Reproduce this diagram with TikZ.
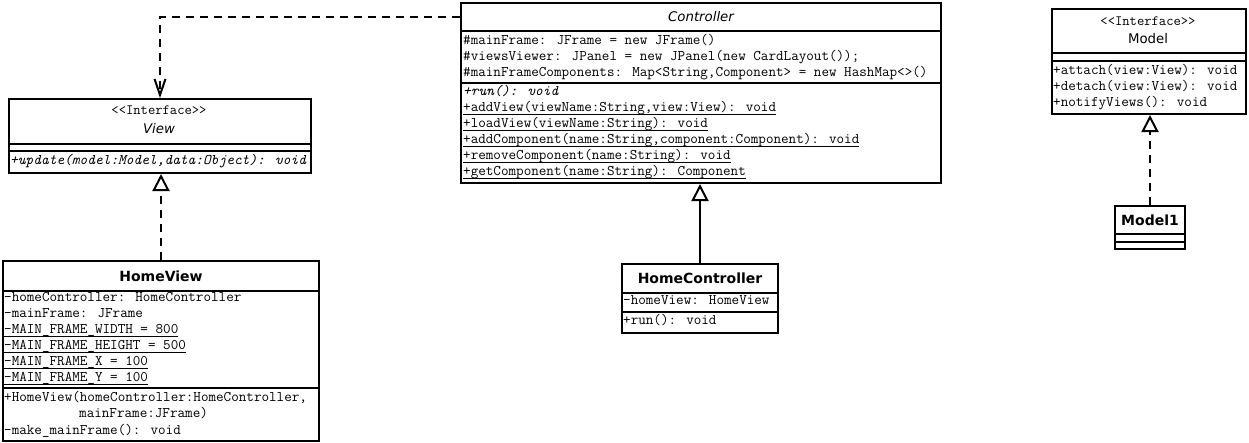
\documentclass[tikz,border=0pt]{standalone}
\usepackage{fontspec}
\usetikzlibrary{arrows.meta}
\newcommand\monof{\ttfamily}
\newfontfamily\titlef{DejaVu Sans}
\newcommand\myul[1]{\setbox0=\hbox{#1}\rlap{\rule[-3.6pt]{\wd0}{0.8pt}}\box0}
\begin{document}
\begin{tikzpicture}[x=1pt,y=-1pt,
 comp/.style={draw, line width=2pt, inner sep=0pt, anchor=north west, fill=white},
 mono/.style={font=\monof\fontsize{14.7}{17}\selectfont, inner sep=0pt, anchor=west, text height=9pt, text depth=3pt},
 monoi/.style={mono, font=\monof\itshape\fontsize{14.7}{17}\selectfont},
 stereo/.style={font=\monof\fontsize{14.2}{17}\selectfont, inner sep=0pt},
 ttli/.style={font=\titlef\itshape\fontsize{13.3}{15}\selectfont, inner sep=0pt},
 ttl/.style={font=\titlef\fontsize{13.3}{15}\selectfont, inner sep=0pt},
 ttlb/.style={font=\titlef\bfseries\fontsize{14}{16}\selectfont, inner sep=0pt},
 dep/.style={line width=2pt, dash pattern=on 8pt off 6pt, -{Straight Barb[length=16pt,width=11pt]}},
 real/.style={line width=2pt, dash pattern=on 8pt off 6pt, -{Triangle[open,length=17pt,width=17pt]}},
 gen/.style={line width=2pt, -{Triangle[open,length=17pt,width=17pt]}},
]
\useasboundingbox (0,0) rectangle (1249,442);
% Controller
\node[comp, minimum width=480pt, minimum height=28pt] (ctrlT) at (460,2) {};
\node[comp, minimum width=480pt, minimum height=52pt] (ctrlA) at (460,30) {};
\node[comp, minimum width=480pt, minimum height=100pt] (ctrlO) at (460,82) {};
\node[ttli] (ctrlN) at (ctrlT.center) {Controller};
\node[mono] (ca1) at (463,41) {\#mainFrame: JFrame = new JFrame()};
\node[mono] (ca2) at (463,57) {\#viewsViewer: JPanel = new JPanel(new CardLayout());};
\node[mono] (ca3) at (463,73) {\#mainFrameComponents: Map<String,Component> = new HashMap<>()};
\node[monoi] (co1) at (463,92) {+run(): void};
\node[mono] (co2) at (463,108) {\myul{+addView(viewName:String,view:View): void}};
\node[mono] (co3) at (463,124) {\myul{+loadView(viewName:String): void}};
\node[mono] (co4) at (463,140) {\myul{+addComponent(name:String,component:Component): void}};
\node[mono] (co5) at (463,156) {\myul{+removeComponent(name:String): void}};
\node[mono] (co6) at (463,172) {\myul{+getComponent(name:String): Component}};
% View
\node[comp, minimum width=302pt, minimum height=45pt] (viewT) at (8,98) {};
\node[comp, minimum width=302pt, minimum height=7pt] (viewA) at (8,143) {};
\node[comp, minimum width=302pt, minimum height=22pt] (viewO) at (8,150) {};
\node[stereo] (viewS) at (159,110) {<<Interface>>};
\node[ttli] (viewN) at (159,129) {View};
\node[monoi] (vo1) at (10,161) {+update(model:Model,data:Object): void};
% HomeView
\node[comp, minimum width=316pt, minimum height=30pt] (hvT) at (2,260) {};
\node[comp, minimum width=316pt, minimum height=97pt] (hvA) at (2,290) {};
\node[comp, minimum width=316pt, minimum height=53pt] (hvO) at (2,387) {};
\node[ttlb] (hvN) at (hvT.center) {HomeView};
\node[mono] (ha1) at (4,298.5) {-homeController: HomeController};
\node[mono] (ha2) at (4,314.5) {-mainFrame: JFrame};
\node[mono] (ha3) at (4,330.5) {\myul{-MAIN\_FRAME\_WIDTH = 800}};
\node[mono] (ha4) at (4,346.5) {\myul{-MAIN\_FRAME\_HEIGHT = 500}};
\node[mono] (ha5) at (4,362.5) {\myul{-MAIN\_FRAME\_X = 100}};
\node[mono] (ha6) at (4,378.5) {\myul{-MAIN\_FRAME\_Y = 100}};
\node[mono] (ho1) at (4,398.5) {+HomeView(homeController:HomeController,};
\node[mono] (ho2) at (79,414.5) {mainFrame:JFrame)};
\node[mono] (ho3) at (4,431) {-make\_mainFrame(): void};
% HomeController
\node[comp, minimum width=156pt, minimum height=29pt] (hcT) at (621,263) {};
\node[comp, minimum width=156pt, minimum height=19pt] (hcA) at (621,292) {};
\node[comp, minimum width=156pt, minimum height=21pt] (hcO) at (621,311) {};
\node[ttlb] (hcN) at (hcT.center) {HomeController};
\node[mono] (hca1) at (623,301.5) {-homeView: HomeView};
\node[mono] (hco1) at (623,321.5) {+run(): void};
% Model
\node[comp, minimum width=194pt, minimum height=44pt] (mT) at (1051,8) {};
\node[comp, minimum width=194pt, minimum height=8pt] (mA) at (1051,52) {};
\node[comp, minimum width=194pt, minimum height=53pt] (mO) at (1051,60) {};
\node[stereo] (mS) at (1148,21) {<<Interface>>};
\node[ttl] (mN) at (1148,39) {Model};
\node[mono] (mo1) at (1053,71) {+attach(view:View): void};
\node[mono] (mo2) at (1053,87) {+detach(view:View): void};
\node[mono] (mo3) at (1053,103) {+notifyViews(): void};
% Model1
\node[comp, minimum width=70pt, minimum height=28pt] (m1T) at (1114,205) {};
\node[comp, minimum width=70pt, minimum height=8pt] (m1A) at (1114,233) {};
\node[comp, minimum width=70pt, minimum height=7pt] (m1O) at (1114,241) {};
\node[ttlb] (m1N) at (m1T.center) {Model1};
% connectors
\draw[dep] (ctrlT.west) -| (viewT.north);
\draw[real] (hvT.north) -- (hvT.north |- viewO.south);
\draw[gen] (hcT.north) -- (hcT.north |- ctrlO.south);
\draw[real] (m1T.north) -- (m1T.north |- mO.south);
\end{tikzpicture}
\end{document}
